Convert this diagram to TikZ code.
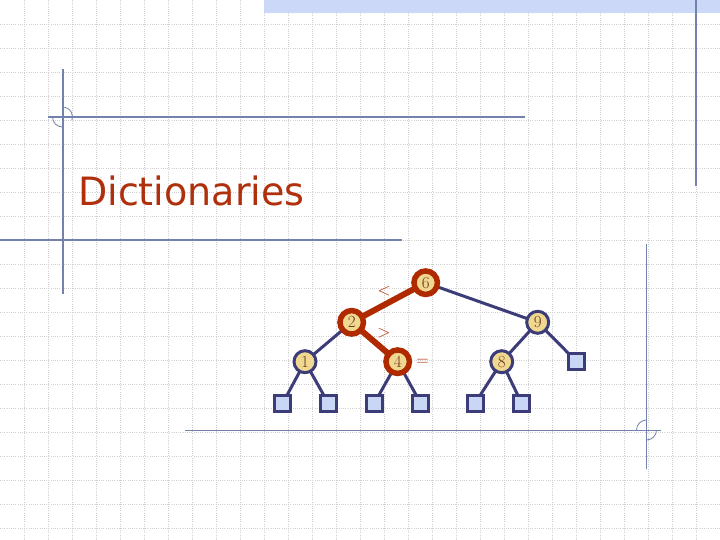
\documentclass[tikz,border=0pt]{standalone}
\usepackage{fontspec}
\newfontfamily\titlefont{DejaVu Sans}
\usetikzlibrary{backgrounds}
\definecolor{treeblue}{HTML}{3C3C78}
\definecolor{nodefill}{HTML}{F0D890}
\definecolor{sqfill}{HTML}{CAD6F6}
\definecolor{hired}{HTML}{B02A00}
\definecolor{titlecol}{HTML}{B0300C}
\definecolor{framecol}{HTML}{7282AC}
\definecolor{bandcol}{HTML}{CCD8F8}
\definecolor{gridcol}{HTML}{D0D0D0}
\definecolor{digitcol}{HTML}{6A3A20}
\begin{document}
\begin{tikzpicture}[x=1pt,y=-1pt,
  bnode/.style={circle, draw=treeblue, line width=3pt, fill=nodefill, minimum size=22pt, inner sep=0pt, font=\fontsize{17}{17}\selectfont, text=digitcol},
  rnode/.style={bnode, draw=hired, line width=5.5pt, minimum size=23.5pt},
  leaf/.style={rectangle, draw=treeblue, line width=3pt, fill=sqfill, minimum size=16pt, inner sep=0pt},
  bedge/.style={draw=treeblue, line width=3pt},
  redge/.style={draw=hired, line width=6pt},
  frameline/.style={draw=framecol, line width=1.2pt},
  framecirc/.style={draw=framecol, line width=0.8pt},
  gridline/.style={draw=gridcol, line width=0.6pt, dash pattern=on 1pt off 1.2pt},
  cmp/.style={text=hired, font=\fontsize{16}{16}\selectfont, inner sep=0pt}
]
\useasboundingbox (0,0) rectangle (720,540);
% tree nodes
\node[rnode] (n6) at (425.7,282.7) {6};
\node[rnode] (n2) at (351.7,322.3) {2};
\node[bnode] (n9) at (537.7,322.3) {9};
\node[bnode] (n1) at (305,361.7) {1};
\node[rnode] (n4) at (397.7,361.7) {4};
\node[bnode] (n8) at (501.7,361.7) {8};
\node[leaf] (l9) at (576.7,361.7) {};
\node[leaf] (l1a) at (282.7,403.3) {};
\node[leaf] (l1b) at (328.3,403.3) {};
\node[leaf] (l4a) at (374.3,403.3) {};
\node[leaf] (l4b) at (420.7,403.3) {};
\node[leaf] (l8a) at (475,403.3) {};
\node[leaf] (l8b) at (521.7,403.3) {};
% comparison labels
\node[cmp] (lt) at (384.3,291) {$<$};
\node[cmp] (gt) at (384,332.7) {$>$};
\node[cmp] (eq) at (422.7,362.5) {$=$};
% title
\node[anchor=base west, text=titlecol, inner sep=0pt] (title) at (78,206)
  {\titlefont\fontsize{39}{39}\selectfont\scalebox{0.975}[1]{Dictionaries}};
\begin{scope}[on background layer]
\fill[white] (0,0) rectangle (720,540);
% grid
\foreach \i in {24,48,...,696} \draw[gridline] (\i,0) -- (\i,540);
\foreach \j in {24,48,...,528} \draw[gridline] (0,\j) -- (720,\j);
% top band
\fill[bandcol] (264,0) rectangle (720,12.7);
% frame lines
\draw[frameline] (696,0) -- (696,186);
\draw[frameline] (63,69) -- (63,294);
\draw[frameline] (48,117) -- (525,117);
\draw[frameline] (0,240) -- (402,240);
\draw[frameline] (646.5,244) -- (646.5,469);
\draw[frameline] (185,430.5) -- (661,430.5);
% decorative circles
\draw[framecirc] (62.5,117) ++(-90:10) arc (-90:20:10);
\draw[framecirc] (62.5,117) ++(-180:10) arc (-180:-270:10);
\draw[framecirc] (646.5,430) ++(-180:10) arc (-180:-90:10);
\draw[framecirc] (646.5,430) ++(-270:10) arc (-270:-360:10);
% edges
\draw[bedge] (n6.center) -- (n9.center);
\draw[bedge] (n2.center) -- (n1.center);
\draw[bedge] (n9.center) -- (n8.center);
\draw[bedge] (n9.center) -- (l9.center);
\draw[bedge] (n1.center) -- (l1a.center);
\draw[bedge] (n1.center) -- (l1b.center);
\draw[bedge] (n4.center) -- (l4a.center);
\draw[bedge] (n4.center) -- (l4b.center);
\draw[bedge] (n8.center) -- (l8a.center);
\draw[bedge] (n8.center) -- (l8b.center);
\draw[redge] (n6.center) -- (n2.center);
\draw[redge] (n2.center) -- (n4.center);
\end{scope}
\end{tikzpicture}
\end{document}
